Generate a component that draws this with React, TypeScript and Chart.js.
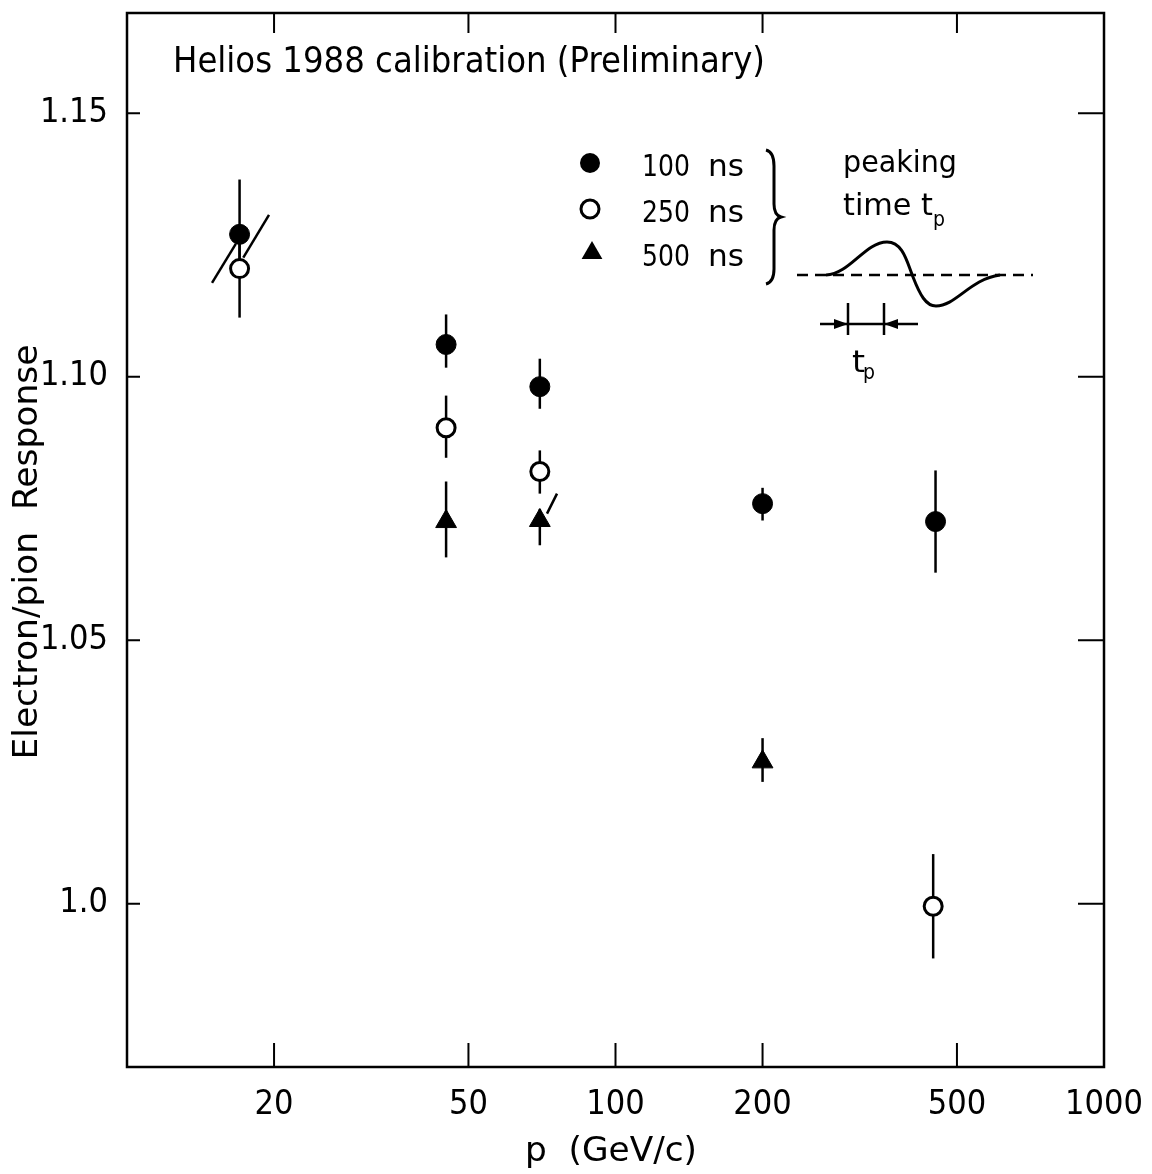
import React, { useEffect, useRef } from "react";
import { Chart, registerables } from "chart.js";

Chart.register(...registerables);

// ---------- data ----------
const xTickValues = [20, 50, 100, 200, 500, 1000];
const yTickValues = [1.0, 1.05, 1.1, 1.15];
const yTickLabels = ["1.0", "1.05", "1.10", "1.15"];

// 100 ns peaking time (filled circles)
const p100 = [17, 45, 70, 200, 452];
const r100 = [1.127, 1.1061, 1.0981, 1.0759, 1.0725];
const up100 = [0.0104, 0.0057, 0.0053, 0.003, 0.0097];
const dn100 = [0.006, 0.0044, 0.0042, 0.0032, 0.0097];

// 250 ns peaking time (open circles)
const p250 = [17, 45, 70, 447];
const r250 = [1.1205, 1.0903, 1.082, 0.9995];
const up250 = [0.006, 0.0061, 0.004, 0.0099];
const dn250 = [0.0093, 0.0057, 0.0042, 0.0099];

// 500 ns peaking time (triangles)
const p500 = [45, 70, 200];
const r500 = [1.0725, 1.0727, 1.0269];
const up500 = [0.0076, 0.0022, 0.0045];
const dn500 = [0.0068, 0.0047, 0.0038];

// slanted systematic-shift marks
const slashX1 = [14.93, 17.3, 72.4];
const slashY1 = [1.1178, 1.1226, 1.074];
const slashX2 = [16.7, 19.53, 75.9];
const slashY2 = [1.1252, 1.1307, 1.0778];

const seriesNumbers = ["100", "250", "500"];
const seriesUnit = "ns";

const FONT = "'Liberation Sans Narrow', 'DejaVu Sans Condensed', 'DejaVu Sans', sans-serif";

function drawText(
  ctx: CanvasRenderingContext2D,
  text: string,
  x: number,
  y: number,
  size: number,
  sx: number,
  align: CanvasTextAlign = "left",
  rotate = 0
) {
  ctx.save();
  ctx.font = `${size}px ${FONT}`;
  ctx.translate(x, y);
  if (rotate) ctx.rotate(rotate);
  ctx.scale(sx, 1);
  ctx.textAlign = align;
  ctx.textBaseline = "alphabetic";
  ctx.fillStyle = "#000";
  ctx.fillText(text, 0, 0);
  ctx.restore();
}

function fitText(
  ctx: CanvasRenderingContext2D,
  text: string,
  x: number,
  y: number,
  size: number,
  width: number,
  align: CanvasTextAlign = "left",
  rotate = 0
) {
  ctx.save();
  ctx.font = `${size}px ${FONT}`;
  const w = ctx.measureText(text).width;
  ctx.restore();
  drawText(ctx, text, x, y, size, width / w, align, rotate);
}

function marker(ctx: CanvasRenderingContext2D, kind: number, x: number, y: number) {
  ctx.save();
  ctx.strokeStyle = "#000";
  ctx.fillStyle = "#000";
  if (kind === 0) {
    ctx.beginPath();
    ctx.arc(x, y, 10, 0, Math.PI * 2);
    ctx.fill();
  } else if (kind === 1) {
    ctx.lineWidth = 3;
    ctx.fillStyle = "#fff";
    ctx.beginPath();
    ctx.arc(x, y, 9, 0, Math.PI * 2);
    ctx.fill();
    ctx.stroke();
  } else {
    const r = 12;
    ctx.beginPath();
    ctx.moveTo(x, y - r);
    ctx.lineTo(x + r * 0.866, y + r / 2);
    ctx.lineTo(x - r * 0.866, y + r / 2);
    ctx.closePath();
    ctx.fill();
  }
  ctx.restore();
}

const decor = {
  id: "decor",
  beforeDatasetsDraw(chart: any) {
    const ctx: CanvasRenderingContext2D = chart.ctx;
    const xs = chart.scales.x;
    const ys = chart.scales.y;
    ctx.save();
    ctx.strokeStyle = "#000";
    ctx.lineWidth = 2.5;
    const groups: [number[], number[], number[], number[]][] = [
      [p100, r100, up100, dn100],
      [p250, r250, up250, dn250],
      [p500, r500, up500, dn500],
    ];
    for (const [p, r, up, dn] of groups) {
      p.forEach((xv, i) => {
        const px = xs.getPixelForValue(xv);
        ctx.beginPath();
        ctx.moveTo(px, ys.getPixelForValue(r[i] + up[i]));
        ctx.lineTo(px, ys.getPixelForValue(r[i] - dn[i]));
        ctx.stroke();
      });
    }
    slashX1.forEach((_, i) => {
      ctx.beginPath();
      ctx.moveTo(xs.getPixelForValue(slashX1[i]), ys.getPixelForValue(slashY1[i]));
      ctx.lineTo(xs.getPixelForValue(slashX2[i]), ys.getPixelForValue(slashY2[i]));
      ctx.stroke();
    });
    ctx.restore();
  },
  afterDraw(chart: any) {
    const ctx: CanvasRenderingContext2D = chart.ctx;
    const { left, right, top, bottom } = chart.chartArea;
    const xs = chart.scales.x;
    const ys = chart.scales.y;
    ctx.save();
    ctx.strokeStyle = "#000";
    ctx.fillStyle = "#000";
    // frame
    ctx.lineWidth = 2.5;
    ctx.strokeRect(left, top, right - left, bottom - top);
    // ticks
    ctx.lineWidth = 2;
    xTickValues.forEach((v) => {
      const px = xs.getPixelForValue(v);
      ctx.beginPath();
      ctx.moveTo(px, bottom);
      ctx.lineTo(px, bottom - 24);
      ctx.moveTo(px, top);
      ctx.lineTo(px, top + 20);
      ctx.stroke();
    });
    yTickValues.forEach((v) => {
      const py = ys.getPixelForValue(v);
      ctx.beginPath();
      ctx.moveTo(left, py);
      ctx.lineTo(left + 13, py);
      ctx.moveTo(right, py);
      ctx.lineTo(right - 26, py);
      ctx.stroke();
    });

    // title inside
    fitText(ctx, "Helios 1988 calibration (Preliminary)", 173, 72, 35, 592);

    // axis titles
    fitText(ctx, "Electron/pion  Response", 37, 552, 33, 415, "center", -Math.PI / 2);
    fitText(ctx, "p  (GeV/c)", 525, 1161, 33, 172);

    // legend
    const legendY = [163, 209, 253];
    legendY.forEach((y, i) => {
      marker(ctx, i, i === 2 ? 592 : 590, y);
      drawText(ctx, seriesNumbers[i], 642, y + 13, 31, 0.9);
      fitText(ctx, seriesUnit, 708, y + 13, 31, 36);
    });

    // brace
    ctx.lineWidth = 3;
    ctx.beginPath();
    ctx.moveTo(766, 150);
    ctx.quadraticCurveTo(774, 152, 774, 166);
    ctx.lineTo(774, 204);
    ctx.quadraticCurveTo(774, 215, 781, 217);
    ctx.quadraticCurveTo(774, 219, 774, 230);
    ctx.lineTo(774, 269);
    ctx.quadraticCurveTo(774, 282, 766, 284);
    ctx.stroke();

    // peaking time text
    fitText(ctx, "peaking", 843, 172, 30, 114);
    fitText(ctx, "time t", 843, 215, 30, 90);
    fitText(ctx, "p", 933, 226, 22, 12);

    // pulse sketch
    ctx.lineWidth = 2.5;
    ctx.setLineDash([11, 7]);
    ctx.beginPath();
    ctx.moveTo(797, 275);
    ctx.lineTo(1033, 275);
    ctx.stroke();
    ctx.setLineDash([]);
    ctx.lineWidth = 3;
    ctx.beginPath();
    ctx.moveTo(826, 275);
    ctx.bezierCurveTo(850, 274, 865, 242, 887, 242);
    ctx.bezierCurveTo(903, 242, 907, 262, 913, 277);
    ctx.bezierCurveTo(920, 295, 926, 306, 936, 306);
    ctx.bezierCurveTo(956, 306, 970, 279, 1000, 275);
    ctx.stroke();

    // t_p arrows
    ctx.lineWidth = 2.5;
    ctx.beginPath();
    ctx.moveTo(820, 324);
    ctx.lineTo(918, 324);
    ctx.moveTo(848, 303);
    ctx.lineTo(848, 335);
    ctx.moveTo(884, 303);
    ctx.lineTo(884, 335);
    ctx.stroke();
    ctx.beginPath();
    ctx.moveTo(848, 324);
    ctx.lineTo(834, 319);
    ctx.lineTo(834, 329);
    ctx.closePath();
    ctx.moveTo(884, 324);
    ctx.lineTo(898, 319);
    ctx.lineTo(898, 329);
    ctx.closePath();
    ctx.fill();
    fitText(ctx, "t", 852, 372, 30, 13);
    fitText(ctx, "p", 863, 379, 22, 12);

    ctx.restore();
  },
};

export default function App() {
  const ref = useRef<HTMLCanvasElement>(null);
  useEffect(() => {
    const mk = (p: number[], r: number[]) => p.map((x, i) => ({ x, y: r[i] }));
    const chart = new Chart(ref.current as HTMLCanvasElement, {
      type: "scatter",
      data: {
        datasets: [
          {
            label: "100 ns",
            data: mk(p100, r100),
            pointStyle: "circle",
            pointRadius: 10,
            backgroundColor: "#000",
            borderColor: "#000",
            borderWidth: 1,
          },
          {
            label: "250 ns",
            data: mk(p250, r250),
            pointStyle: "circle",
            pointRadius: 9,
            backgroundColor: "#fff",
            borderColor: "#000",
            borderWidth: 3,
          },
          {
            label: "500 ns",
            data: mk(p500, r500),
            pointStyle: "triangle",
            pointRadius: 12,
            backgroundColor: "#000",
            borderColor: "#000",
            borderWidth: 1,
          },
        ],
      },
      options: {
        animation: false,
        responsive: false,
        devicePixelRatio: 1,
        layout: { padding: { left: 0, top: 12, right: 48, bottom: 0 } },
        plugins: { legend: { display: false }, tooltip: { enabled: false }, title: { display: false } },
        scales: {
          x: {
            type: "logarithmic",
            min: 10,
            max: 1000,
            grid: { display: false, drawTicks: false },
            border: { display: false },
            ticks: {
              color: "#000",
              font: { family: FONT, size: 34 },
              padding: 18,
              maxRotation: 0,
              autoSkip: false,
              callback: (v: any) => String(v),
            },
            afterBuildTicks: (s: any) => {
              s.ticks = xTickValues.map((v) => ({ value: v }));
            },
            afterFit: (s: any) => {
              s.height = 107;
              s.paddingLeft = 0;
              s.paddingRight = 0;
            },
          },
          y: {
            type: "linear",
            min: 0.969,
            max: 1.169,
            grid: { display: false, drawTicks: false },
            border: { display: false },
            ticks: {
              color: "#000",
              font: { family: FONT, size: 34 },
              padding: 19,
              autoSkip: false,
              callback: (_v: any, i: number) => yTickLabels[i],
            },
            afterBuildTicks: (s: any) => {
              s.ticks = yTickValues.map((v) => ({ value: v }));
            },
            afterFit: (s: any) => {
              s.width = 127;
              s.paddingTop = 0;
              s.paddingBottom = 0;
            },
          },
        },
      },
      plugins: [decor],
    } as any);
    return () => chart.destroy();
  }, []);
  return (
    <div style={{ position: "absolute", left: 0, top: 0, width: 1152, height: 1174, background: "#fff" }}>
      <canvas ref={ref} width={1152} height={1174} style={{ display: "block", width: 1152, height: 1174 }} />
    </div>
  );
}
